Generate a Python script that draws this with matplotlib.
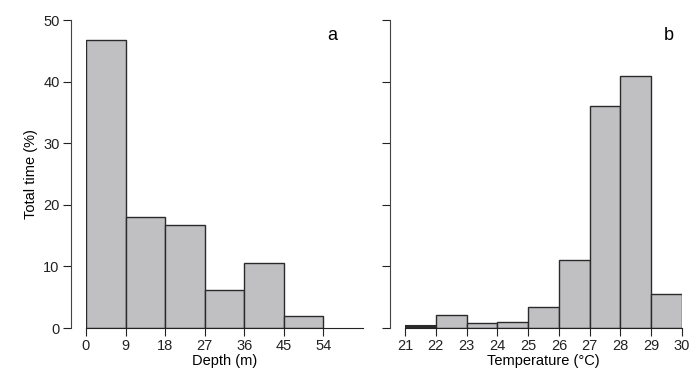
import matplotlib
matplotlib.use("Agg")
import matplotlib.pyplot as plt

plt.rcParams['font.family'] = ['Liberation Sans', 'DejaVu Sans']

# panel a: depth histogram
depth_edges = [0, 9, 18, 27, 36, 45]
depth_pct = [46.7, 18.1, 16.7, 6.1, 10.6, 2.0]
depth_ticks = [0, 9, 18, 27, 36, 45, 54]

# panel b: temperature histogram
temp_edges = [21, 22, 23, 24, 25, 26, 27, 28, 29]
temp_pct = [0.3, 2.1, 0.75, 0.9, 3.4, 11.0, 36.0, 40.9, 5.5]
temp_ticks = [21, 22, 23, 24, 25, 26, 27, 28, 29, 30]

y_ticks = [0, 10, 20, 30, 40, 50]

bar_color = '#c0c0c3'
edge_color = '#2a2a2a'

fig = plt.figure(figsize=(6.96, 3.77), dpi=100)
ax1 = fig.add_axes([86 / 696, 49 / 377, 277 / 696, 308 / 377])
ax2 = fig.add_axes([405 / 696, 49 / 377, 277 / 696, 308 / 377])

ax1.bar(depth_edges, depth_pct, width=9, align='edge',
        color=bar_color, edgecolor=edge_color, linewidth=1)
bars = ax2.bar(temp_edges, temp_pct, width=1, align='edge',
               color=bar_color, edgecolor=edge_color, linewidth=1)
# the tiny first bin shows up as a thick dark line
bars[0].set_facecolor(edge_color)
bars[0].set_linewidth(1.5)

for ax in (ax1, ax2):
    ax.set_ylim(0, 50)
    ax.set_yticks(y_ticks)
    for s in ('top', 'right'):
        ax.spines[s].set_visible(False)
    ax.spines['left'].set_position(('outward', 11))
    ax.spines['left'].set_bounds(0, 50)
    ax.spines['left'].set_color('#444444')
    ax.spines['bottom'].set_color('#222222')
    ax.tick_params(direction='out', length=6, width=0.8, labelsize=10.5,
                   colors='#222222', pad=2)

ax1.set_xlim(0, 63)
ax1.set_xticks(depth_ticks)
ax1.set_xlabel('Depth (m)', fontsize=10.5, labelpad=1)
ax1.set_ylabel('Total time (%)', fontsize=10.5, labelpad=4)
ax1.text(0.87, 0.95, 'a', transform=ax1.transAxes, fontsize=13, va='center')

ax2.set_xlim(21, 30)
ax2.set_xticks(temp_ticks)
ax2.set_yticklabels([])
ax2.set_xlabel('Temperature (°C)', fontsize=10.5, labelpad=1)
ax2.text(0.935, 0.95, 'b', transform=ax2.transAxes, fontsize=13, va='center')

fig.savefig('out.png', dpi=100)
